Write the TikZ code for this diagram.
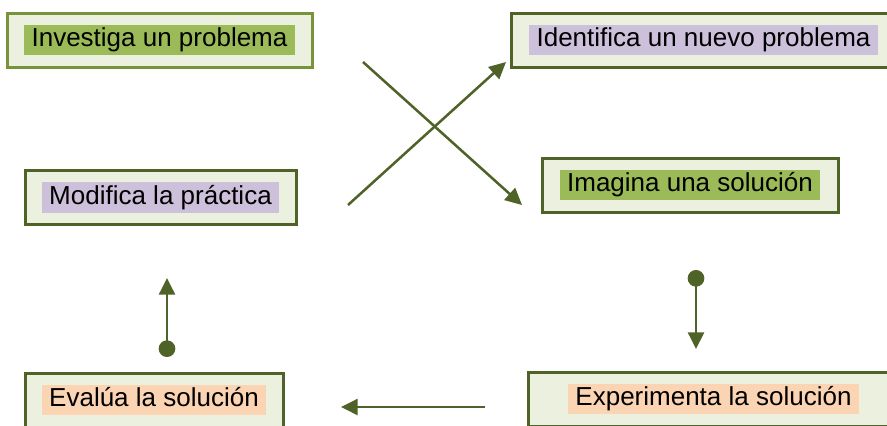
\documentclass[tikz,border=0pt]{standalone}
\usepackage{fontspec}
\setmainfont{Liberation Sans}
\usepackage{tikz}
\usetikzlibrary{arrows.meta}
\usetikzlibrary{positioning}
\definecolor{olive}{HTML}{4F6228}
\definecolor{lightolive}{HTML}{77933C}
\definecolor{boxfill}{HTML}{EBF1DE}
\definecolor{hlgreen}{HTML}{9BBB59}
\definecolor{hlpurple}{HTML}{CCC0DA}
\definecolor{hlpeach}{HTML}{FBD4B4}

\begin{document}
\begin{tikzpicture}[x=0.75pt, y=-0.75pt,
        box/.style={draw=olive, fill=boxfill, line width=2.25pt, minimum height=40.5pt, inner sep=0pt},
        hl/.style={inner xsep=5.5pt, inner ysep=1.5pt, text height=15pt, text depth=5pt,
            font=\fontsize{19.5}{23}\selectfont},
        arr/.style={draw=olive, line width=1.9pt, -{Triangle[length=12.5pt, width=12pt]}},
        dotarr/.style={arr, {Circle[length=12.5pt]}-{Triangle[length=12.5pt, width=12pt]}}]
        \useasboundingbox (0, 0) rectangle (887, 425);

        \node[box, draw=lightolive, minimum width=228.75pt] (inv) at (159.5, 40) {};
        \node[box, minimum width=288.75pt] (ide) at (703.5, 40) {};
        \node[box, minimum width=222pt] (ima) at (690, 185) {};
        \node[box, minimum width=203.25pt] (mod) at (160.5, 197.5) {};
        \node[box, minimum width=193.5pt] (eva) at (154, 400) {};
        \node[box, minimum width=278.25pt] (exp) at (713.5, 399) {};

        \node[hl, fill=hlgreen] (invt) at (inv) {Investiga un problema};
        \node[hl, fill=hlpurple] (idet) at (ide) {Identifica un nuevo problema};
        \node[hl, fill=hlgreen] (imat) at (ima) {Imagina una solución};
        \node[hl, fill=hlpurple] (modt) at (mod) {Modifica la práctica};
        \node[hl, fill=hlpeach] (evat) at (eva) {Evalúa la solución};
        \node[hl, fill=hlpeach] (expt) at (exp) {Experimenta la solución};

        \coordinate (x1) at (363, 62);
        \coordinate (x2) at (522, 205);
        \coordinate (y1) at (348, 205);
        \coordinate (y2) at (506, 62);
        \coordinate (d1) at (696, 270);
        \coordinate (d2) at (696, 349);
        \coordinate (l1) at (485, 407);
        \coordinate (l2) at (341, 407);
        \coordinate (u1) at (167, 357);
        \coordinate (u2) at (167, 278);

        \draw[arr] (x1) -- (x2);
        \draw[arr] (y1) -- (y2);
        \draw[dotarr] (d1) -- (d2);
        \draw[arr] (l1) -- (l2);
        \draw[dotarr] (u1) -- (u2);
    \end{tikzpicture}
\end{document}
